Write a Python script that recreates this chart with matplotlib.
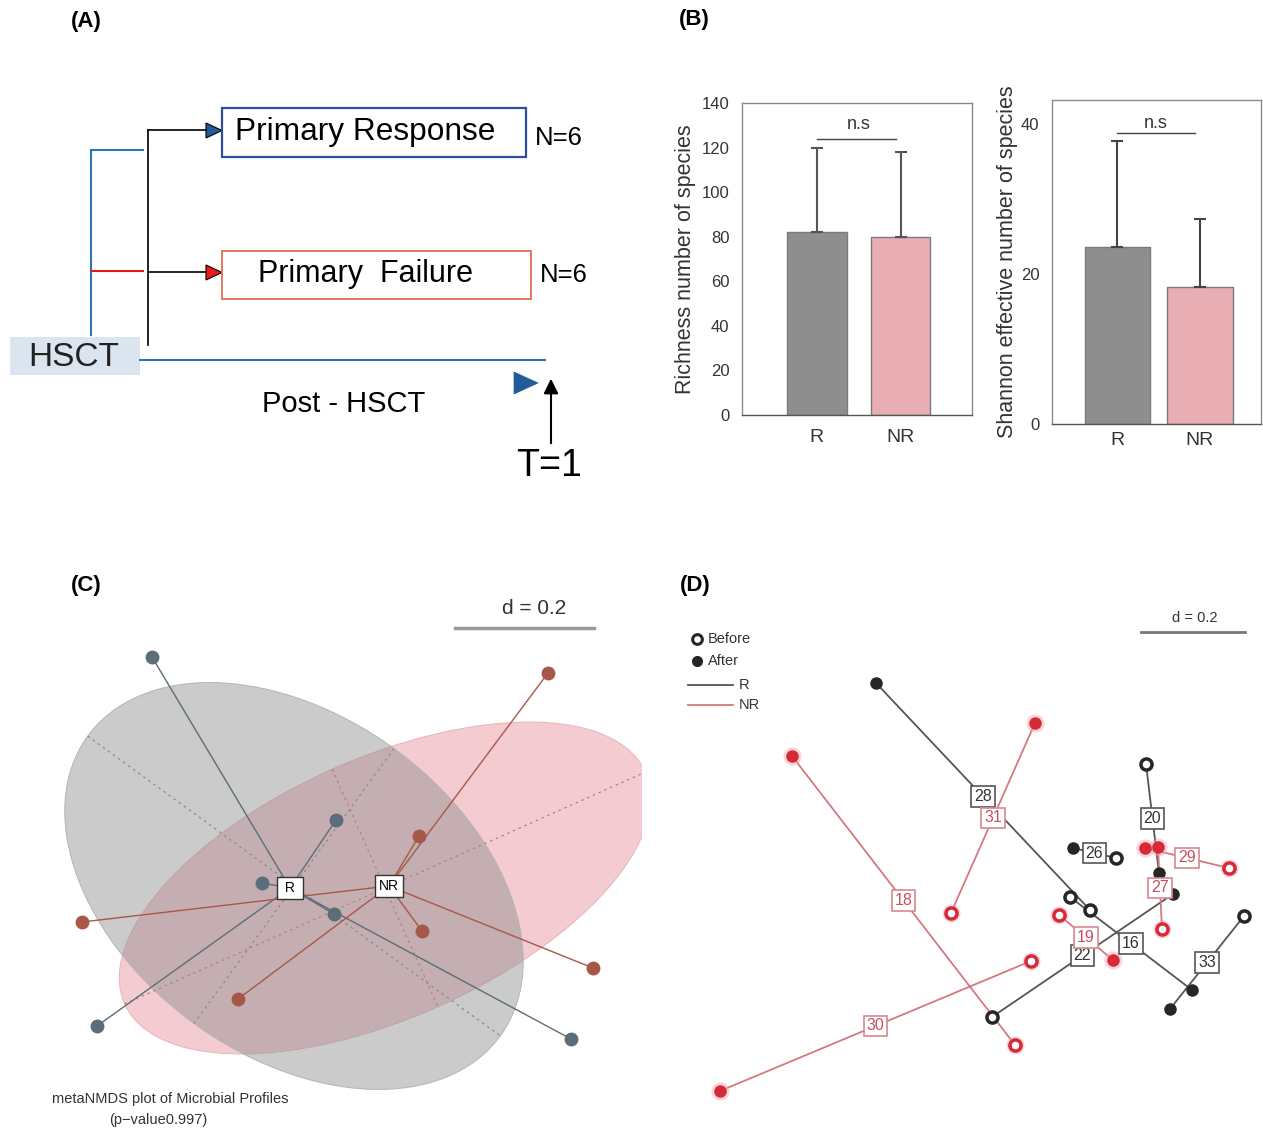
import matplotlib
matplotlib.use('Agg')
import matplotlib.pyplot as plt
from matplotlib.patches import Rectangle, Ellipse, Polygon
import numpy as np

plt.rcParams['font.family'] = ['Liberation Sans', 'DejaVu Sans']

# ---- panel B: alpha diversity
groups = ['R', 'NR']
richness = [82, 80]
richness_err = [38, 38]
shannon = [23.6, 18.3]
shannon_err = [14.1, 9.0]
bar_colors = ['#8e8e8e', '#e8aeb4']

# ---- panel C: metaNMDS, point positions in picture pixels
c_center_R = (290, 888)
c_center_NR = (389, 886)
c_r_x = [152, 336, 262, 334, 97, 571]
c_r_y = [657, 820, 883, 914, 1026, 1039]
c_nr_x = [548, 419, 82, 422, 238, 593]
c_nr_y = [673, 836, 922, 931, 999, 968]
# ellipse: cx, cy, semi-major, semi-minor, angle
ell_R = (294, 886, 255, 170, 36)
ell_NR = (385, 888, 285, 130, -24)

# ---- panel D: paired samples before / after
d_ids = ['28', '16', '20', '22', '26', '33', '31', '18', '30', '19', '29', '27']
d_group = ['R'] * 6 + ['NR'] * 6
d_before_x = [1090, 1070, 1146, 992, 1116, 1244, 951, 1015, 1031, 1059, 1229, 1162]
d_before_y = [910, 897, 764, 1017, 858, 916, 913, 1045, 961, 915, 868, 929]
d_after_x = [876, 1192, 1159, 1173, 1073, 1170, 1035, 792, 720, 1113, 1145, 1158]
d_after_y = [683, 990, 873, 894, 848, 1009, 723, 756, 1091, 960, 848, 847]

fig = plt.figure(figsize=(12.63, 11.3), dpi=100)
ax = fig.add_axes([0, 0, 1, 1])
ax.set_xlim(0, 1263)
ax.set_ylim(1130, 0)
ax.axis('off')

for lab, x, y in [('(A)', 86, 22), ('(B)', 694, 20), ('(C)', 86, 585), ('(D)', 695, 585)]:
    ax.text(x, y, lab, fontsize=16, fontweight='bold', ha='center', va='center')

# ================= panel A =================
blue = '#2e75b6'
ax.plot([91, 91], [335, 150], color=blue, lw=1.5)
ax.plot([91, 143], [150, 150], color=blue, lw=1.5)
ax.plot([91, 143], [271, 271], color='#e41a1a', lw=1.5)
ax.plot([148, 148], [345, 130], color='black', lw=1.2)
ax.plot([148, 206], [130, 130], color='black', lw=1.2)
ax.plot([148, 206], [272, 272], color='black', lw=1.2)
ax.add_patch(Polygon([[206, 123], [206, 138], [222, 130.5]], closed=True,
                     fc='#1f5c99', ec='black', lw=0.8))
ax.add_patch(Polygon([[206, 265], [206, 280], [222, 272.5]], closed=True,
                     fc='#e81c1c', ec='black', lw=0.8))
ax.add_patch(Rectangle((222, 108), 304, 49, fc='white', ec='#2f4f9e', lw=1.6))
ax.text(235, 132, 'Primary Response', fontsize=22.8, va='center', ha='left')
ax.text(535, 138, 'N=6', fontsize=18.5, va='center', ha='left')
ax.add_patch(Rectangle((222, 251), 309, 48, fc='white', ec='#e07050', lw=1.3))
ax.text(258, 274, 'Primary  Failure', fontsize=22, va='center', ha='left')
ax.text(540, 275, 'N=6', fontsize=18.5, va='center', ha='left')
ax.add_patch(Rectangle((10, 337), 130, 38, fc='#dae5f0', ec='none'))
ax.text(74, 357, 'HSCT', fontsize=24, va='center', ha='center', color='#222222')
ax.plot([140, 545], [360, 360], color=blue, lw=1.5)
ax.text(344, 404, 'Post - HSCT', fontsize=21, va='center', ha='center')
ax.add_patch(Polygon([[514, 372], [514, 394], [538, 383]], closed=True,
                     fc='#1f5c99', ec='#1f5c99', lw=0.5))
ax.annotate('', xy=(551, 376), xytext=(551, 446),
            arrowprops=dict(arrowstyle='-|>', color='black', lw=1.5, mutation_scale=22))
ax.text(549, 466, 'T=1', fontsize=27, va='center', ha='center')

# ================= panel C =================
clip = Rectangle((40, 600), 602, 500, transform=ax.transData)
for (cx, cy, a, b, ang), fc, ec in [(ell_NR, (0.93, 0.60, 0.65, 0.5), '#e8b4ba'),
                                     (ell_R, (0.55, 0.55, 0.55, 0.45), '#b4b4b4')]:
    e = Ellipse((cx, cy), 2 * a, 2 * b, angle=ang, fc=fc, ec=ec, lw=0.7, zorder=1)
    ax.add_patch(e)
    e.set_clip_path(clip)
for (cx, cy, a, b, ang), col in [(ell_R, '#8a8a8a'), (ell_NR, '#b08080')]:
    t = np.deg2rad(ang)
    for half, tt in [(a, t), (b, t + np.pi / 2)]:
        dx, dy = half * np.cos(tt), half * np.sin(tt)
        ln, = ax.plot([cx - dx, cx + dx], [cy - dy, cy + dy], color=col, lw=0.9,
                      ls=(0, (2, 3)), zorder=2)
        ln.set_clip_path(clip)

r_col = '#5b6d79'
nr_col = '#a65848'
for x, y in zip(c_r_x, c_r_y):
    ax.plot([c_center_R[0], x], [c_center_R[1], y], color=r_col, lw=1.0, zorder=3)
for x, y in zip(c_nr_x, c_nr_y):
    ax.plot([c_center_NR[0], x], [c_center_NR[1], y], color=nr_col, lw=1.0, zorder=3)
ax.scatter(c_r_x, c_r_y, s=100, color=r_col, zorder=4, lw=0)
ax.scatter(c_nr_x, c_nr_y, s=100, color=nr_col, zorder=4, lw=0)
ax.text(c_center_R[0], c_center_R[1], ' R ', fontsize=10, ha='center', va='center', zorder=5,
        bbox=dict(boxstyle='square,pad=0.3', fc='white', ec='#333333', lw=1))
ax.text(c_center_NR[0], c_center_NR[1], 'NR', fontsize=10, ha='center', va='center', zorder=5,
        bbox=dict(boxstyle='square,pad=0.3', fc='white', ec='#333333', lw=1))
ax.text(534, 609, 'd = 0.2', fontsize=15, ha='center', va='center', color='#333333')
ax.plot([455, 594], [628, 628], color='#999999', lw=2.5)
ax.text(170, 1099, 'metaNMDS plot of Microbial Profiles', fontsize=10.5, ha='center',
        va='center', color='#333333')
ax.text(158, 1120, '(p\u2212value0.997)', fontsize=10.5, ha='center', va='center', color='#333333')

# ================= panel D =================
dk = '#262626'
rd = '#d42a3a'
line_col = {'R': '#555555', 'NR': '#d47880'}
for i, gid in enumerate(d_ids):
    g = d_group[i]
    bx, by, fx, fy = d_before_x[i], d_before_y[i], d_after_x[i], d_after_y[i]
    ax.plot([bx, fx], [by, fy], color=line_col[g], lw=1.3, zorder=3)
for i, gid in enumerate(d_ids):
    g = d_group[i]
    c = dk if g == 'R' else rd
    if g == 'NR':
        ax.plot([d_before_x[i], d_after_x[i]], [d_before_y[i], d_after_y[i]], 'o', ms=13,
                color='#f4a0a8', alpha=0.45, mew=0, zorder=3.5)
    ax.plot(d_after_x[i], d_after_y[i], 'o', ms=9, color=c, mew=0, zorder=4)
    ax.plot(d_before_x[i], d_before_y[i], 'o', ms=8, mfc='white', mec=c, mew=2.5, zorder=4)
for i, gid in enumerate(d_ids):
    g = d_group[i]
    mx = (d_before_x[i] + d_after_x[i]) / 2
    my = (d_before_y[i] + d_after_y[i]) / 2
    tc, ec = ('#333333', '#555555') if g == 'R' else ('#c65060', '#d98890')
    ax.text(mx, my, gid, fontsize=11.5, ha='center', va='center', color=tc, zorder=6,
            bbox=dict(boxstyle='square,pad=0.18', fc='white', ec=ec, lw=1.2))

ax.text(1195, 618, 'd = 0.2', fontsize=10.5, ha='center', va='center', color='#333333')
ax.plot([1141, 1245], [632, 632], color='#777777', lw=2)
ax.plot(697, 639, 'o', ms=7, mfc='white', mec=dk, mew=2.2)
ax.text(708, 639, 'Before', fontsize=10.5, va='center', color='#333333')
ax.plot(697, 661, 'o', ms=8, color=dk, mew=0)
ax.text(708, 661, 'After', fontsize=10.5, va='center', color='#333333')
ax.plot([688, 733], [685, 685], color=line_col['R'], lw=1.3)
ax.text(739, 685, 'R', fontsize=10.5, va='center', color='#333333')
ax.plot([688, 733], [705, 705], color=line_col['NR'], lw=1.3)
ax.text(739, 705, 'NR', fontsize=10.5, va='center', color='#333333')

# ================= panel B =================
W, H = 1263, 1130


def bar_axes(x0, x1, ytop, ybot):
    return fig.add_axes([x0 / W, 1 - ybot / H, (x1 - x0) / W, (ybot - ytop) / H])


def style(b, xpad):
    for s in b.spines.values():
        s.set_color('#8a8a8a')
        s.set_linewidth(1.0)
    b.spines['bottom'].set_color('#555555')
    b.tick_params(length=0, labelsize=12, colors='#333333', pad=9)
    b.tick_params(axis='x', labelsize=14, pad=xpad)


b1 = bar_axes(742, 972, 103, 415)
xpos = np.arange(len(groups))
b1.bar(xpos, richness, width=0.71, color=bar_colors, edgecolor='#7a7a7a', lw=1)
b1.errorbar(xpos, richness, yerr=[[0, 0], richness_err], fmt='none', ecolor='#555555',
            elinewidth=1.5, capsize=4, capthick=1.5)
b1.set_xlim(-0.89, 1.85)
b1.set_ylim(0, 140)
b1.set_yticks(range(0, 141, 20))
b1.set_xticks(xpos)
b1.set_xticklabels(groups)
b1.set_ylabel('Richness number of species', fontsize=15.5, color='#333333', labelpad=4)
b1.plot([0, 0.95], [124, 124], color='#444444', lw=1)
b1.text(0.5, 130.5, 'n.s', fontsize=13, ha='center', va='center', color='#333333')
style(b1, 10)

b2 = bar_axes(1052, 1261, 100, 424)
b2.bar(xpos, shannon, width=0.79, color=bar_colors, edgecolor='#7a7a7a', lw=1)
b2.errorbar(xpos, shannon, yerr=[[0, 0], shannon_err], fmt='none', ecolor='#444444',
            elinewidth=1.5, capsize=4, capthick=1.5)
b2.set_xlim(-0.79, 1.74)
b2.set_ylim(0, 43.2)
b2.set_yticks([0, 20, 40])
b2.set_xticks(xpos)
b2.set_xticklabels(groups)
b2.set_ylabel('Shannon effective number of species', fontsize=15.5, color='#333333', labelpad=2)
b2.plot([0, 0.94], [38.8, 38.8], color='#444444', lw=1)
b2.text(0.47, 40.1, 'n.s', fontsize=13, ha='center', va='center', color='#333333')
style(b2, 6)

fig.savefig('out.png', dpi=100)
